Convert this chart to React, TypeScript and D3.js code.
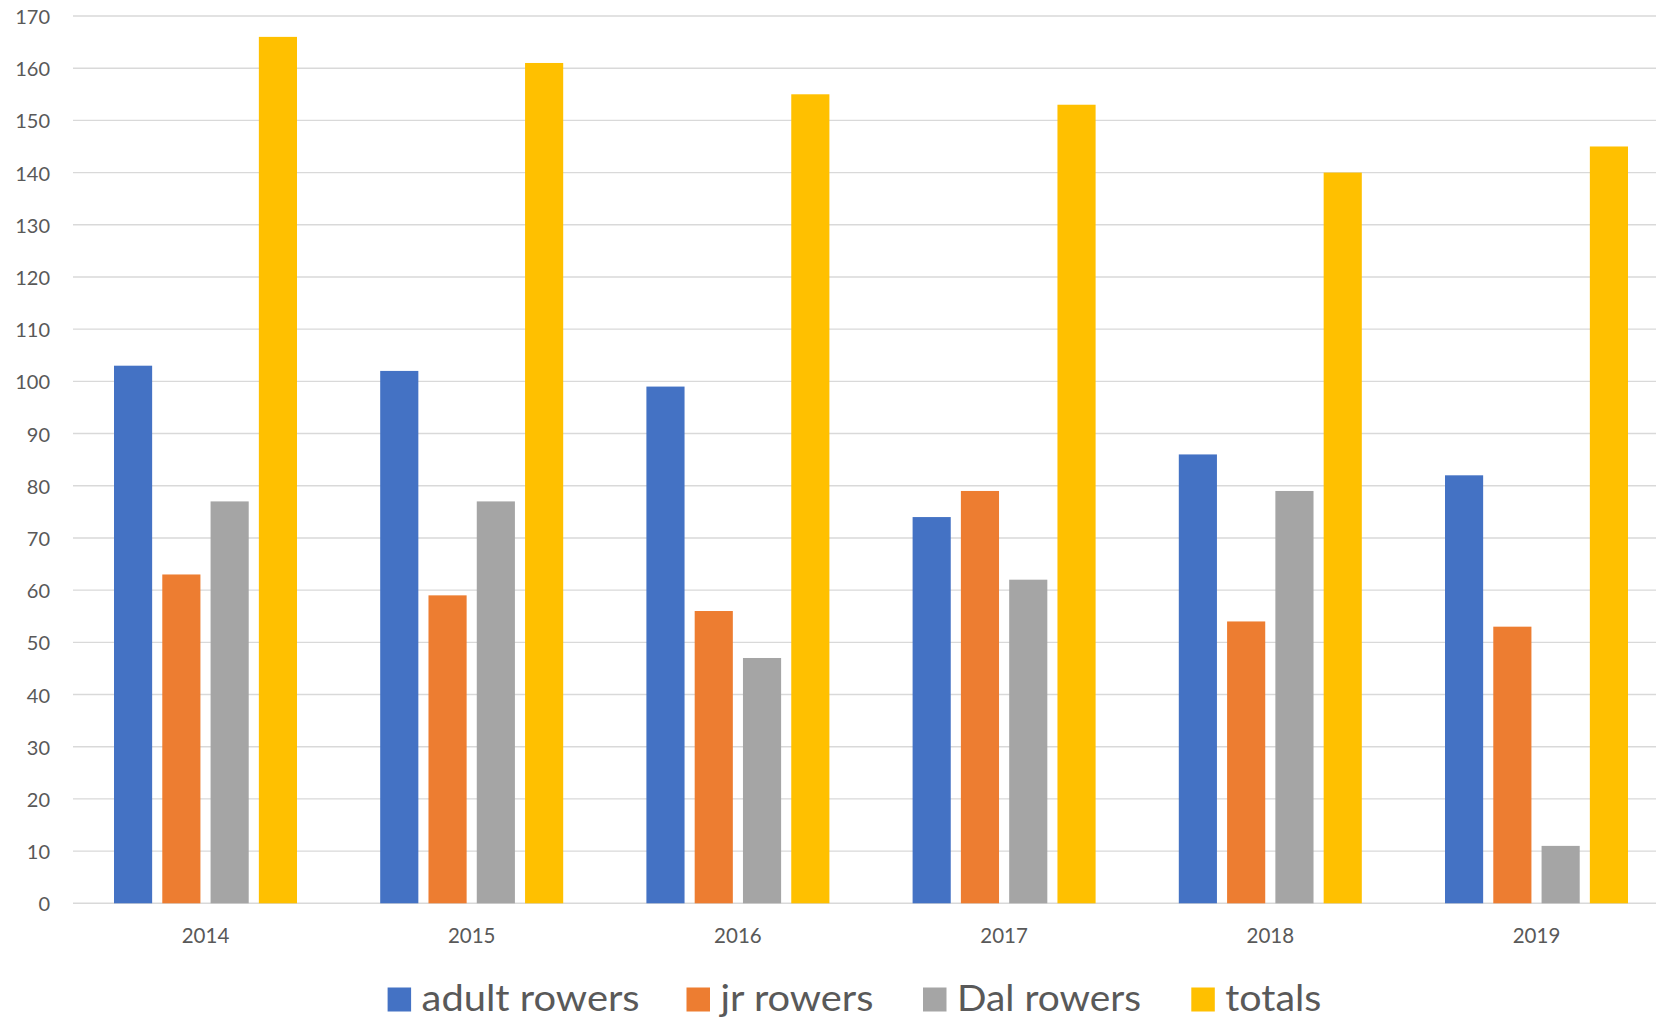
import React from "react";
import * as d3 from "d3";

const years = ["2014", "2015", "2016", "2017", "2018", "2019"];
const seriesNames = ["adult rowers", "jr rowers", "Dal rowers", "totals"];
const adultRowers = [103, 102, 99, 74, 86, 82];
const jrRowers = [63, 59, 56, 79, 54, 53];
const dalRowers = [77, 77, 47, 62, 79, 11];
const totals = [166, 161, 155, 153, 140, 145];
const colors = ["#4472C4", "#ED7D31", "#A5A5A5", "#FFC000"];
const yTicks = d3.range(0, 171, 10);

const W = 1656;
const H = 1020;
const FONT = "Lato, 'Open Sans', sans-serif";

export default function App() {
  const series = [adultRowers, jrRowers, dalRowers, totals];
  const left = 72.4;
  const step = 266.2;
  const x0 = d3.scaleBand<string>().domain(years).range([left, left + step * years.length]).paddingInner(0).paddingOuter(0);
  const x1 = d3.scaleBand<string>().domain(seriesNames).range([41.6, step - 41.6]).paddingInner(0.21).paddingOuter(0);
  const y = d3.scaleLinear().domain([0, 170]).range([903.3, 16]);

  const legendItems = [
    { name: seriesNames[0], sx: 387.6, tw: 218 },
    { name: seriesNames[1], sx: 686.5, tw: 153 },
    { name: seriesNames[2], sx: 923, tw: 184 },
    { name: seriesNames[3], sx: 1191.3, tw: 96 },
  ];

  return (
    <svg width={W} height={H} style={{ position: "absolute", left: 0, top: 0, background: "#fff" }} fontFamily={FONT}>
      <rect x={0} y={0} width={W} height={H} fill="#fff" />
      {yTicks.map((t) => (
        <g key={t}>
          <line x1={73} x2={W} y1={y(t)} y2={y(t)} stroke="#D9D9D9" strokeWidth={1.4} />
          <text x={50} y={y(t)} textAnchor="end" dominantBaseline="central" fontSize={20} fill="#595959">
            {t}
          </text>
        </g>
      ))}
      {years.map((yr, i) => (
        <g key={yr} transform={`translate(${x0(yr)},0)`}>
          {series.map((s, j) => (
            <rect
              key={j}
              x={x1(seriesNames[j])}
              y={y(s[i])}
              width={x1.bandwidth()}
              height={y(0) - y(s[i])}
              fill={colors[j]}
            />
          ))}
          <text x={step / 2} y={943} textAnchor="middle" fontSize={20.5} fill="#595959">
            {yr}
          </text>
        </g>
      ))}
      {legendItems.map((it, j) => (
        <g key={it.name}>
          <rect x={it.sx} y={987.5} width={23.5} height={24} fill={colors[j]} />
          <text x={it.sx + 34} y={1011} fontSize={36} fill="#595959" textLength={it.tw} lengthAdjust="spacingAndGlyphs">
            {it.name}
          </text>
        </g>
      ))}
    </svg>
  );
}
